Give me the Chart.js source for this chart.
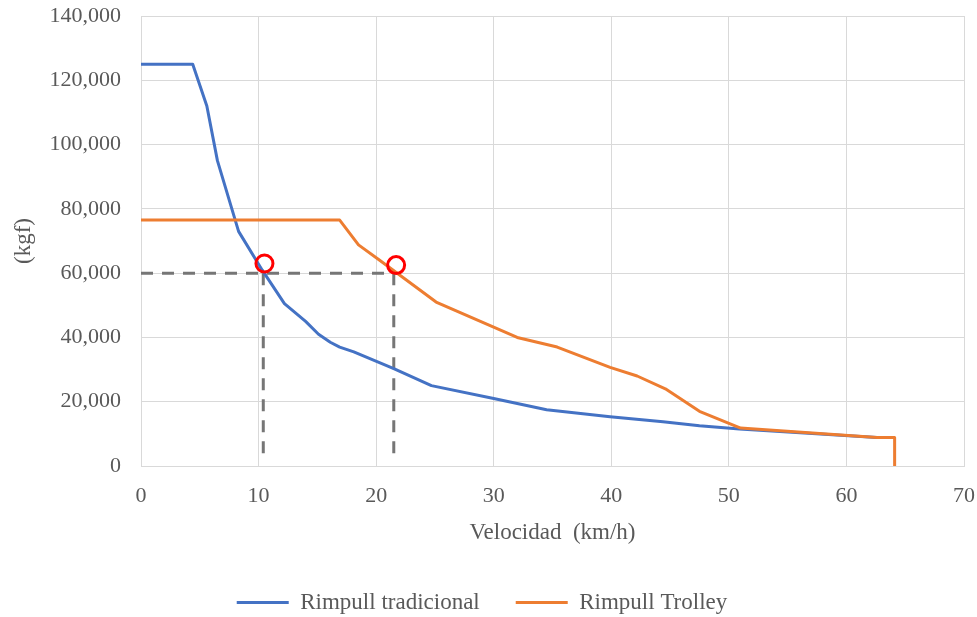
<!DOCTYPE html>
<html><head><meta charset="utf-8">
<script src="https://cdn.jsdelivr.net/npm/chart.js@4.4.0/dist/chart.umd.min.js"></script>
<style>html,body{margin:0;padding:0;background:#fff}#wrap{width:977px;height:617px}</style>
</head><body><div id="wrap"><canvas id="c" width="977" height="617"></canvas></div>
<script>
const xTicks = [0,10,20,30,40,50,60,70];
const yTicks = [0,20000,40000,60000,80000,100000,120000,140000];
const blueLabel = 'Rimpull tradicional';
const blueX = [0, 4.4, 5.6, 6.5, 8.3, 10.3, 12.2, 14.0, 15.1, 16.1, 16.9, 18.1, 21.5, 24.7, 30.0, 34.5, 39.9, 44.4, 47.5, 50.9, 62.6, 64.1];
const blueY = [125000,125000,112000,95000,73000,61000,50500,45000,41000,38500,37000,35500,30300,25000,21000,17500,15300,13800,12500,11500,8900,8900];
const orangeLabel = 'Rimpull Trolley';
const orangeX = [0, 16.9, 18.5, 20.3, 25.1, 32.0, 35.4, 39.9, 42.2, 44.6, 47.5, 51.0, 62.6, 64.1, 64.1];
const orangeY = [76500, 76500, 68800, 64000, 51000, 40000, 37000, 30700, 28000, 24000, 17000, 11800, 8900, 8900, 0];
const dashHX = [0, 21.6];
const dashHY = [60000, 60000];
const dashV1X = [10.4, 10.4];
const dashV1Y = [60000, 4000];
const dashV2X = [21.5, 21.5];
const dashV2Y = [60000, 4000];
const circleX = [10.5, 21.7];
const circleY = [63000, 62500];

const BLUE = '#4472C4', ORANGE = '#ED7D31', GRAY = '#767676', RED = '#FF0000';
const pts = (xs, ys) => xs.map((x, i) => ({x, y: ys[i]}));
const FONT = 'Liberation Serif';
const TXT = '#595959';

const dashed = (xs, ys) => ({label: '_dash', data: pts(xs, ys), borderColor: GRAY, borderWidth: 3, borderDash: [12, 9], pointRadius: 0, showLine: true, order: 3, borderCapStyle: 'butt'});

new Chart(document.getElementById('c'), {
  type: 'scatter',
  data: { datasets: [
    {label: blueLabel, data: pts(blueX, blueY), borderColor: BLUE, backgroundColor: BLUE, borderWidth: 3, pointRadius: 0, showLine: true, order: 2, borderJoinStyle: 'round'},
    {label: orangeLabel, data: pts(orangeX, orangeY), borderColor: ORANGE, backgroundColor: ORANGE, borderWidth: 3, pointRadius: 0, showLine: true, order: 1, borderJoinStyle: 'round'},
    dashed(dashHX, dashHY), dashed(dashV1X, dashV1Y), dashed(dashV2X, dashV2Y),
    {label: '_circ', data: pts(circleX, circleY), pointRadius: 8.5, pointBorderWidth: 3, pointBorderColor: RED, pointBackgroundColor: 'rgba(0,0,0,0)', showLine: false, order: 0}
  ]},
  options: {
    responsive: false, animation: false, devicePixelRatio: 1,
    layout: {padding: {left: 0, right: 13, top: 16, bottom: -7}},
    plugins: {
      tooltip: {enabled: false},
      legend: {
        position: 'bottom',
        labels: {
          font: {family: FONT, size: 23}, color: TXT, boxWidth: 52, boxHeight: 3, padding: 36,
          filter: item => !item.text.startsWith('_'),
          sort: (a, b) => a.datasetIndex - b.datasetIndex,
          generateLabels: chart => chart.data.datasets.map((d, i) => ({text: d.label, fillStyle: d.borderColor, strokeStyle: d.borderColor, lineWidth: 0, datasetIndex: i, hidden: false, fontColor: TXT}))
        }
      }
    },
    scales: {
      x: {
        type: 'linear', min: 0, max: 70,
        afterBuildTicks: s => { s.ticks = xTicks.map(v => ({value: v})); },
        afterFit: s => { s.height = 89; s.paddingLeft = 0; s.paddingRight = 0; },
        grid: {color: '#D9D9D9', lineWidth: 1, drawTicks: false},
        border: {color: '#D9D9D9', width: 1},
        ticks: {font: {family: FONT, size: 22}, color: TXT, padding: 17},
        title: {display: true, text: 'Velocidad  (km/h)', font: {family: FONT, size: 23}, color: TXT, padding: {top: 0, bottom: 8}}
      },
      y: {
        type: 'linear', min: 0, max: 140000,
        afterBuildTicks: s => { s.ticks = yTicks.map(v => ({value: v})); },
        afterFit: s => { s.width = 141; s.paddingTop = 0; s.paddingBottom = 0; },
        grid: {color: '#D9D9D9', lineWidth: 1, drawTicks: false},
        border: {color: '#D9D9D9', width: 1},
        ticks: {font: {family: FONT, size: 22}, color: TXT, padding: 20, callback: v => v.toLocaleString('en-US')},
        title: {display: true, text: '(kgf)', font: {family: FONT, size: 23}, color: TXT, padding: {top: 10, bottom: 0}}
      }
    }
  }
});
</script></body></html>
